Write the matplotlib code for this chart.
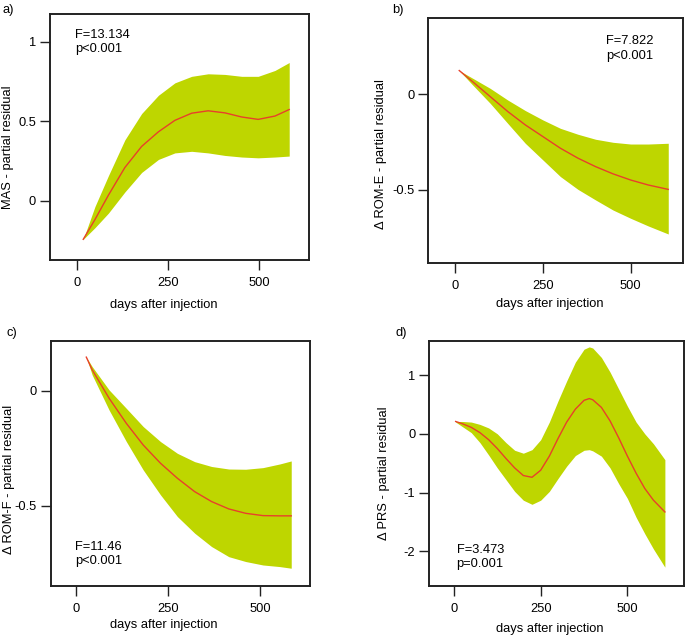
import matplotlib

matplotlib.use("Agg")
import matplotlib.pyplot as plt

plt.rcParams["font.family"] = ["Liberation Sans", "DejaVu Sans"]

# a) MAS
a_days = [18, 50, 87, 132, 178, 224, 269, 315, 360, 406, 452, 497, 543, 582]
a_fit = [-0.243, -0.119, 0.035, 0.209, 0.342, 0.434, 0.506, 0.551, 0.566, 0.553, 0.527, 0.512, 0.533, 0.574]
a_upper = [-0.243, -0.037, 0.158, 0.383, 0.549, 0.664, 0.742, 0.783, 0.799, 0.795, 0.783, 0.783, 0.82, 0.87]
a_lower = [-0.243, -0.17, -0.078, 0.055, 0.178, 0.26, 0.301, 0.311, 0.301, 0.285, 0.275, 0.27, 0.275, 0.281]

# b) delta ROM-E
b_days = [12, 50, 100, 150, 200, 250, 300, 350, 400, 450, 500, 550, 607]
b_fit = [0.124, 0.066, -0.012, -0.09, -0.16, -0.221, -0.282, -0.334, -0.378, -0.416, -0.448, -0.474, -0.497]
b_upper = [0.124, 0.084, 0.031, -0.03, -0.085, -0.134, -0.178, -0.209, -0.235, -0.251, -0.26, -0.26, -0.256]
b_lower = [0.124, 0.049, -0.047, -0.152, -0.256, -0.343, -0.43, -0.497, -0.552, -0.605, -0.648, -0.688, -0.73]

# c) delta ROM-F
c_days = [27, 43, 89, 136, 182, 229, 275, 322, 368, 415, 461, 508, 554, 585]
c_fit = [0.145, 0.09, -0.033, -0.142, -0.236, -0.315, -0.38, -0.438, -0.481, -0.513, -0.532, -0.542, -0.543, -0.543]
c_upper = [0.145, 0.104, 0.003, -0.077, -0.156, -0.221, -0.272, -0.308, -0.329, -0.34, -0.341, -0.334, -0.318, -0.305]
c_lower = [0.145, 0.068, -0.084, -0.221, -0.344, -0.452, -0.546, -0.618, -0.676, -0.72, -0.741, -0.756, -0.763, -0.77]

# d) delta PRS
d_days = [5, 25, 50, 75, 100, 125, 150, 175, 200, 225, 250, 275, 300, 325, 350, 375, 390,
          400, 425, 450, 475, 500, 525, 550, 575, 608]
d_fit = [0.21, 0.17, 0.11, 0.02, -0.10, -0.25, -0.42, -0.58, -0.71, -0.74, -0.62, -0.38, -0.08,
         0.20, 0.42, 0.57, 0.60, 0.58, 0.45, 0.22, -0.07, -0.38, -0.67, -0.93, -1.13, -1.33]
d_upper = [0.21, 0.21, 0.20, 0.16, 0.10, 0.00, -0.15, -0.28, -0.33, -0.27, -0.10, 0.20, 0.56,
           0.90, 1.22, 1.44, 1.48, 1.46, 1.30, 1.05, 0.76, 0.47, 0.20, 0.00, -0.17, -0.44]
d_lower = [0.20, 0.12, 0.02, -0.15, -0.36, -0.58, -0.78, -0.98, -1.13, -1.20, -1.13, -0.98, -0.76,
           -0.55, -0.37, -0.28, -0.27, -0.29, -0.38, -0.58, -0.85, -1.10, -1.42, -1.70, -1.96, -2.27]

x_ticks = [0, 250, 500]
x_tick_labels = ["0", "250", "500"]

FILL = "#bed600"
LINE = "#e8402a"
FS = 9.3

panels = [
    dict(tag="a)", days=a_days, fit=a_fit, up=a_upper, lo=a_lower,
         rect=[0.073, 0.5906, 0.378, 0.387], xlim=(-73, 636), ylim=(-0.373, 1.174),
         yticks=[0, 0.5, 1], ylabels=["0", "0.5", "1"], ylabel="MAS - partial residual",
         stat=("F=13.134", "p<0.001"), stat_xy=(0.097, 0.94),
         tag_xy=(0.004, 0.984), ylab_xy=(-0.139, 0.457), xlab_xy=(0.438, -0.159)),
    dict(tag="b)", days=b_days, fit=b_fit, up=b_upper, lo=b_lower,
         rect=[0.6253, 0.5854, 0.3718, 0.3858], xlim=(-76, 649), ylim=(-0.883, 0.397),
         yticks=[-0.5, 0], ylabels=["-0.5", "0"], ylabel="Δ ROM-E - partial residual",
         stat=("F=7.822", "p<0.001"), stat_xy=(0.697, 0.93),
         tag_xy=(0.572, 0.984), ylab_xy=(-0.162, 0.446), xlab_xy=(0.478, -0.142)),
    dict(tag="c)", days=c_days, fit=c_fit, up=c_upper, lo=c_lower,
         rect=[0.074, 0.0772, 0.3785, 0.3858], xlim=(-70, 636), ylim=(-0.847, 0.215),
         yticks=[-0.5, 0], ylabels=["-0.5", "0"], ylabel="Δ ROM-F - partial residual",
         stat=("F=11.46", "p<0.001"), stat_xy=(0.094, 0.185),
         tag_xy=(0.01, 0.476), ylab_xy=(-0.137, 0.433), xlab_xy=(0.435, -0.135)),
    dict(tag="d)", days=d_days, fit=d_fit, up=d_upper, lo=d_lower,
         rect=[0.6267, 0.0772, 0.3718, 0.3858], xlim=(-71, 663), ylim=(-2.59, 1.58),
         yticks=[-2, -1, 0, 1], ylabels=["-2", "-1", "0", "1"], ylabel="Δ PRS - partial residual",
         stat=("F=3.473", "p=0.001"), stat_xy=(0.107, 0.172),
         tag_xy=(0.578, 0.476), ylab_xy=(-0.154, 0.459), xlab_xy=(0.474, -0.151)),
]

fig = plt.figure(figsize=(6.85, 6.35), dpi=100)

for p in panels:
    ax = fig.add_axes(p["rect"])
    ax.fill_between(p["days"], p["lo"], p["up"], color=FILL, linewidth=0)
    ax.plot(p["days"], p["fit"], color=LINE, linewidth=1.0)
    ax.set_xlim(*p["xlim"])
    ax.set_ylim(*p["ylim"])
    ax.set_xticks(x_ticks)
    ax.set_xticklabels(x_tick_labels)
    ax.set_yticks(p["yticks"])
    ax.set_yticklabels(p["ylabels"])
    ax.tick_params(direction="out", length=7, width=1.0, labelsize=FS, color="#222222")
    ax.tick_params(axis="x", pad=5)
    ax.tick_params(axis="y", pad=3)
    for spine in ax.spines.values():
        spine.set_linewidth(1.4)
        spine.set_color("#222222")
    ax.set_ylabel(p["ylabel"], fontsize=FS)
    ax.yaxis.set_label_coords(*p["ylab_xy"])
    ax.set_xlabel("days after injection", fontsize=FS)
    ax.xaxis.set_label_coords(*p["xlab_xy"])
    sx, sy = p["stat_xy"]
    ax.text(sx, sy, p["stat"][0] + "\n" + p["stat"][1], transform=ax.transAxes,
            fontsize=FS, va="top", ha="left", linespacing=1.25)
    fig.text(p["tag_xy"][0], p["tag_xy"][1], p["tag"], fontsize=FS, va="center", ha="left")

fig.savefig("out.png", dpi=100, facecolor="white")
